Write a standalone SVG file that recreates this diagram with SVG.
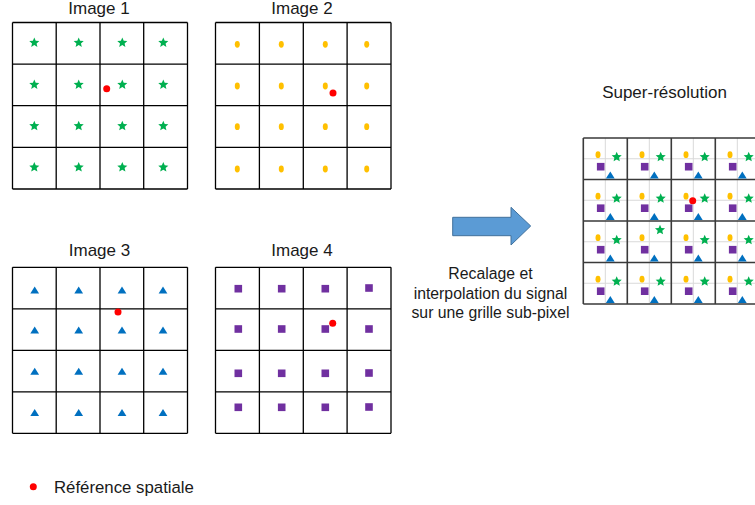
<svg xmlns="http://www.w3.org/2000/svg" xmlns:xlink="http://www.w3.org/1999/xlink" width="755" height="505" viewBox="0 0 755 505">
<style>
text{font-family:"Liberation Sans",Arial,sans-serif;fill:#1a1a1a}
.t{font-size:17px;text-anchor:middle}
.m{font-size:15.8px;text-anchor:middle}
.g{fill:none;stroke:#000;stroke-width:1.3}
.sg{fill:none;stroke:#3a3a3a;stroke-width:1.6}
.lg{fill:none;stroke:#d9d9d9;stroke-width:1}
.ref{fill:#ff0000}
</style>
<defs>
<path id="star" d="M0,-5.3 L1.41,-1.94 L5.04,-1.64 L2.28,0.74 L3.12,4.29 L0,2.4 L-3.12,4.29 L-2.28,0.74 L-5.04,-1.64 L-1.41,-1.94 Z" fill="#00B050"/>
<ellipse id="oval" cx="0" cy="0" rx="2.5" ry="3.4" fill="#FFC000"/>
<path id="tri" d="M0,-3.6 L4.4,3.4 L-4.4,3.4 Z" fill="#0070C0"/>
<rect id="sq" x="-3.8" y="-3.8" width="7.6" height="7.6" fill="#7030A0"/>
<g id="cell">
<use xlink:href="#oval" x="14.7" y="16.7"/>
<use xlink:href="#sq" x="17.4" y="28.7"/>
<use xlink:href="#tri" x="27" y="37"/>
</g>
<g id="cellS">
<use xlink:href="#cell"/>
<use xlink:href="#star" x="33.4" y="19"/>
</g>
</defs>

<g id="image1">
<text class="t" x="99" y="13.5">Image 1</text>
<path class="g" d="M12.5,22.5H187.5M12.5,64.1H187.5M12.5,105.7H187.5M12.5,147.3H187.5M12.5,189H187.5M12.5,22.5V189M56.2,22.5V189M100,22.5V189M143.7,22.5V189M187.5,22.5V189"/>
<g>
<use xlink:href="#star" x="34.3" y="42.7"/><use xlink:href="#star" x="78.7" y="42.7"/><use xlink:href="#star" x="122.3" y="42.7"/><use xlink:href="#star" x="163.3" y="42.7"/>
<use xlink:href="#star" x="34.3" y="84.7"/><use xlink:href="#star" x="78.7" y="84.7"/><use xlink:href="#star" x="122.3" y="84.7"/><use xlink:href="#star" x="163.3" y="84.7"/>
<use xlink:href="#star" x="34.3" y="126"/><use xlink:href="#star" x="78.7" y="126"/><use xlink:href="#star" x="122.3" y="126"/><use xlink:href="#star" x="163.3" y="126"/>
<use xlink:href="#star" x="34.3" y="167.3"/><use xlink:href="#star" x="78.7" y="167.3"/><use xlink:href="#star" x="122.3" y="167.3"/><use xlink:href="#star" x="163.3" y="167.3"/>
</g>
<circle class="ref" cx="106.7" cy="88.7" r="3.5"/>
</g>

<g id="image2">
<text class="t" x="302" y="13.5">Image 2</text>
<path class="g" d="M215.5,22.5H391M215.5,64.1H391M215.5,105.7H391M215.5,147.3H391M215.5,189H391M215.5,22.5V189M259.4,22.5V189M303.3,22.5V189M347.1,22.5V189M391,22.5V189"/>
<g>
<use xlink:href="#oval" x="237.3" y="44.3"/><use xlink:href="#oval" x="281.3" y="44.3"/><use xlink:href="#oval" x="325.3" y="44.3"/><use xlink:href="#oval" x="366.7" y="44.3"/>
<use xlink:href="#oval" x="237.3" y="86"/><use xlink:href="#oval" x="281.3" y="86"/><use xlink:href="#oval" x="325.3" y="86"/><use xlink:href="#oval" x="366.7" y="86"/>
<use xlink:href="#oval" x="237.3" y="126.7"/><use xlink:href="#oval" x="281.3" y="126.7"/><use xlink:href="#oval" x="325.3" y="126.7"/><use xlink:href="#oval" x="366.7" y="126.7"/>
<use xlink:href="#oval" x="237.3" y="169"/><use xlink:href="#oval" x="281.3" y="169"/><use xlink:href="#oval" x="325.3" y="169"/><use xlink:href="#oval" x="366.7" y="169"/>
</g>
<circle class="ref" cx="333" cy="93" r="3.5"/>
</g>

<g id="image3">
<text class="t" x="99.5" y="256">Image 3</text>
<path class="g" d="M12.5,267.3H187.5M12.5,308.8H187.5M12.5,350.3H187.5M12.5,391.8H187.5M12.5,433.3H187.5M12.5,267.3V433.3M56.2,267.3V433.3M100,267.3V433.3M143.7,267.3V433.3M187.5,267.3V433.3"/>
<g>
<use xlink:href="#tri" x="34.7" y="290"/><use xlink:href="#tri" x="78.7" y="290"/><use xlink:href="#tri" x="122" y="290"/><use xlink:href="#tri" x="163" y="290"/>
<use xlink:href="#tri" x="34.7" y="330"/><use xlink:href="#tri" x="78.7" y="330"/><use xlink:href="#tri" x="122" y="330"/><use xlink:href="#tri" x="163" y="330"/>
<use xlink:href="#tri" x="34.7" y="371.3"/><use xlink:href="#tri" x="78.7" y="371.3"/><use xlink:href="#tri" x="122" y="371.3"/><use xlink:href="#tri" x="163" y="371.3"/>
<use xlink:href="#tri" x="34.7" y="412.7"/><use xlink:href="#tri" x="78.7" y="412.7"/><use xlink:href="#tri" x="122" y="412.7"/><use xlink:href="#tri" x="163" y="412.7"/>
</g>
<circle class="ref" cx="118" cy="312" r="3.5"/>
</g>

<g id="image4">
<text class="t" x="302" y="256">Image 4</text>
<path class="g" d="M215.5,267.3H391M215.5,308.8H391M215.5,350.3H391M215.5,391.8H391M215.5,433.3H391M215.5,267.3V433.3M259.4,267.3V433.3M303.3,267.3V433.3M347.1,267.3V433.3M391,267.3V433.3"/>
<g>
<use xlink:href="#sq" x="238.3" y="288.7"/><use xlink:href="#sq" x="281.7" y="288.7"/><use xlink:href="#sq" x="325.3" y="288.7"/><use xlink:href="#sq" x="369" y="288"/>
<use xlink:href="#sq" x="238.3" y="329"/><use xlink:href="#sq" x="281.7" y="329"/><use xlink:href="#sq" x="325.3" y="329"/><use xlink:href="#sq" x="369" y="329"/>
<use xlink:href="#sq" x="238.3" y="373.3"/><use xlink:href="#sq" x="281.7" y="373.3"/><use xlink:href="#sq" x="325.3" y="373.3"/><use xlink:href="#sq" x="369" y="373"/>
<use xlink:href="#sq" x="238.3" y="407.3"/><use xlink:href="#sq" x="281.7" y="407.3"/><use xlink:href="#sq" x="325.3" y="407.3"/><use xlink:href="#sq" x="369" y="407"/>
</g>
<circle class="ref" cx="332.7" cy="323.3" r="3.5"/>
</g>

<g id="connectors">
<path id="arrow" d="M452.7,217.3 L511,217.3 L511,207.3 L530.7,226 L511,245 L511,235.7 L452.7,235.7 Z" fill="#5B9BD5" stroke="#41719C" stroke-width="1"/>
<text class="m" x="490.5" y="279.3">Recalage et</text>
<text class="m" x="490.5" y="298.8">interpolation du signal</text>
<text class="m" x="490.5" y="318.3">sur une grille sub-pixel</text>
</g>

<g id="superres">
<text class="t" x="664.5" y="98.3">Super-résolution</text>
<path class="lg" d="M605.3,138V304M649.3,138V304M693.3,138V304M737.3,138V304M583.3,158.75H759.3M583.3,200.25H759.3M583.3,241.75H759.3M583.3,283.25H759.3"/>
<path class="sg" d="M583.3,138H759.3M583.3,179.5H759.3M583.3,221H759.3M583.3,262.5H759.3M583.3,304H759.3M583.3,138V304M627.3,138V304M671.3,138V304M715.3,138V304M759.3,138V304"/>
<g>
<use xlink:href="#cellS" x="583.3" y="138"/><use xlink:href="#cellS" x="627.3" y="138"/><use xlink:href="#cellS" x="671.3" y="138"/><use xlink:href="#cellS" x="715.3" y="138"/>
<use xlink:href="#cellS" x="583.3" y="179.5"/><use xlink:href="#cellS" x="627.3" y="179.5"/><use xlink:href="#cellS" x="671.3" y="179.5"/><use xlink:href="#cellS" x="715.3" y="179.5"/>
<use xlink:href="#cellS" x="583.3" y="221"/><use xlink:href="#cell" x="627.3" y="221"/><use xlink:href="#star" x="660" y="230"/><use xlink:href="#cellS" x="671.3" y="221"/><use xlink:href="#cellS" x="715.3" y="221"/>
<use xlink:href="#cellS" x="583.3" y="262.5"/><use xlink:href="#cellS" x="627.3" y="262.5"/><use xlink:href="#cellS" x="671.3" y="262.5"/><use xlink:href="#cellS" x="715.3" y="262.5"/>
</g>
<circle class="ref" cx="692.7" cy="200.7" r="3.5"/>
</g>

<g id="legend">
<circle class="ref" cx="33.3" cy="486.7" r="3.5"/>
<text x="54" y="493.3" style="font-size:16.8px">Référence spatiale</text>
</g>
</svg>
